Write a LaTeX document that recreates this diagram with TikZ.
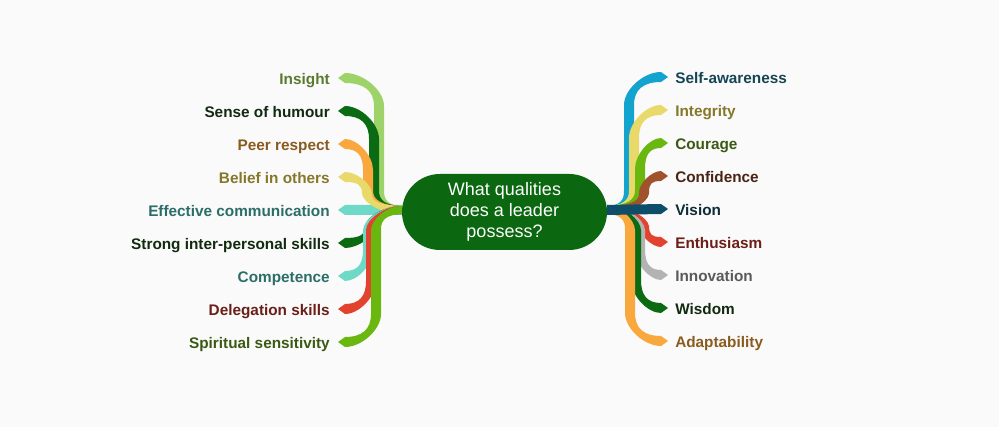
\documentclass[tikz,border=0pt]{standalone}
\usepackage{fontspec}
\setmainfont{Liberation Sans}
\usetikzlibrary{calc}
\definecolor{bgc}{HTML}{FAFAFA}
\definecolor{nodeg}{HTML}{0B6710}
\definecolor{cLgreen}{HTML}{9ED36A}
\definecolor{cDgreen}{HTML}{0B6B12}
\definecolor{cOrange}{HTML}{F9A83E}
\definecolor{cYellow}{HTML}{E9D96A}
\definecolor{cTeal}{HTML}{6DD9C6}
\definecolor{cRed}{HTML}{E2432F}
\definecolor{cGreen}{HTML}{6AB70F}
\definecolor{cBlue}{HTML}{13A3CF}
\definecolor{cBrown}{HTML}{A0522D}
\definecolor{cNavy}{HTML}{0F4E6B}
\definecolor{cGrey}{HTML}{B3B3B3}
\definecolor{tOlive}{HTML}{5A7A30}
\definecolor{tDark}{HTML}{112A10}
\definecolor{tBrownO}{HTML}{8A5B1F}
\definecolor{tKhaki}{HTML}{86782A}
\definecolor{tTeal}{HTML}{2B6E69}
\definecolor{tRed}{HTML}{6B1F18}
\definecolor{tGreen}{HTML}{3A5A13}
\definecolor{tBlue}{HTML}{164656}
\definecolor{tBrown}{HTML}{4A2416}
\definecolor{tNavy}{HTML}{0C2C3A}
\definecolor{tGrey}{HTML}{5A5A5A}
% #1 colour, #2 side (-1 left, 1 right), #3 vertical dir (-1 up, 1 down),
% #4 x of vertical run, #5 junction, #6 band end, #7 radius near junction, #8 radius near end
\newcommand\mybranch[8]{%
  \coordinate (vv) at (#4,0);
  \fill[#1]
    ($(#5)+(0,{(#3)*\hz})$)
    .. controls ($(#5)!0.55!(#5 -| vv)+(0,{(#3)*\hi})$) and ($(#5 -| vv)+({-(#2)*\hi},{(#3)*0.45*#7})$)
    .. ($(#5 -| vv)+({-(#2)*\hh},{(#3)*#7})$)
    -- ($(#6 -| vv)+({-(#2)*\hh},{-(#3)*#8})$)
    .. controls ($(#6 -| vv)+({-(#2)*\hh},{-(#3)*0.45*#8})$) and ($(#6)!0.55!(#6 -| vv)+(0,{(#3)*\hh})$)
    .. ($(#6)+(0,{(#3)*\hh})$)
    -- ($(#6)+({(#2)*7},0)$)
    -- ($(#6)+(0,{-(#3)*\hh})$)
    .. controls ($(#6)!0.55!(#6 -| vv)+(0,{-(#3)*\hh})$) and ($(#6 -| vv)+({(#2)*\hh},{-(#3)*0.45*#8})$)
    .. ($(#6 -| vv)+({(#2)*\hh},{-(#3)*#8})$)
    -- ($(#5 -| vv)+({(#2)*\hh},{(#3)*#7})$)
    .. controls ($(#5 -| vv)+({(#2)*\hi},{(#3)*0.45*#7})$) and ($(#5)!0.55!(#5 -| vv)+(0,{-(#3)*\hi})$)
    .. ($(#5)+(0,{-(#3)*\hz})$)
    -- cycle;}
% straight branch: #1 colour, #2 side, #3 junction, #4 band end
\newcommand\mystraight[4]{%
  \fill[#1] ($(#3)+(0,-\hh)$) -- ($(#4)+(0,-\hh)$) -- ($(#4)+({(#2)*7},0)$) -- ($(#4)+(0,\hh)$) -- ($(#3)+(0,\hh)$) -- cycle;}
\begin{document}
\begin{tikzpicture}[x=0.75pt,y=-0.75pt,
  lbl/.style={font=\bfseries\fontsize{11.5}{13}\selectfont, inner sep=0pt},
  lblL/.style={lbl, anchor=base east},
  lblR/.style={lbl, anchor=base west},
  topic/.style={fill=nodeg, text=white, rounded corners=28.5pt, minimum width=153.75pt, minimum height=57pt, inner sep=0pt, align=center, font=\fontsize{13.5}{16}\selectfont}]
\fill[bgc] (0,0) rectangle (999,427);
\useasboundingbox (0,0) rectangle (999,427);
\def\hz{4}\def\hi{4.5}\def\hh{5}
\coordinate (jl) at (402,210);
\coordinate (jr) at (607,210);
% left band ends
\coordinate (eL1) at (345,78);
\coordinate (eL2) at (345,111);
\coordinate (eL3) at (345,144);
\coordinate (eL4) at (345,177);
\coordinate (eL5) at (345,210);
\coordinate (eL6) at (345,243);
\coordinate (eL7) at (345,276);
\coordinate (eL8) at (345,309);
\coordinate (eL9) at (345,342);
% right band ends
\coordinate (eR1) at (661,77);
\coordinate (eR2) at (661,110);
\coordinate (eR3) at (661,143);
\coordinate (eR4) at (661,176);
\coordinate (eR5) at (661,209);
\coordinate (eR6) at (661,242);
\coordinate (eR7) at (661,275);
\coordinate (eR8) at (661,308);
\coordinate (eR9) at (661,341);
% left branches
\mystraight{cTeal}{-1}{jl}{eL5}
\mybranch{cLgreen}{-1}{-1}{379}{jl}{eL1}{20}{28}
\mybranch{cDgreen}{-1}{-1}{374}{jl}{eL2}{20}{28}
\mybranch{cOrange}{-1}{-1}{368}{jl}{eL3}{20}{26}
\mybranch{cYellow}{-1}{-1}{367}{jl}{eL4}{16.5}{16.5}
\mybranch{cDgreen}{-1}{1}{370}{jl}{eL6}{16.5}{16.5}
\mybranch{cTeal}{-1}{1}{368}{jl}{eL7}{20}{26}
\mybranch{cRed}{-1}{1}{371}{jl}{eL8}{20}{28}
\mybranch{cGreen}{-1}{1}{376}{jl}{eL9}{20}{28}
% right branches
\mybranch{cBlue}{1}{-1}{629}{jr}{eR1}{20}{28}
\mybranch{cYellow}{1}{-1}{634}{jr}{eR2}{20}{28}
\mybranch{cGreen}{1}{-1}{640}{jr}{eR3}{20}{26}
\mybranch{cBrown}{1}{-1}{644}{jr}{eR4}{16.5}{16.5}
\mybranch{cRed}{1}{1}{644}{jr}{eR6}{16.5}{16.5}
\mybranch{cGrey}{1}{1}{640}{jr}{eR7}{20}{26}
\mybranch{cDgreen}{1}{1}{636}{jr}{eR8}{20}{28}
\mybranch{cOrange}{1}{1}{630}{jr}{eR9}{20}{28}
\mystraight{cNavy}{1}{jr}{eR5}
% central topic
\node[topic] (c) at (504.5,212) {What qualities\\does a leader\\possess?};
% left labels
\node[lblL, text=tOlive]  (L1) at (330,85)  {Insight};
\node[lblL, text=tDark]   (L2) at (330,118) {Sense of humour};
\node[lblL, text=tBrownO] (L3) at (330,151) {Peer respect};
\node[lblL, text=tKhaki]  (L4) at (330,184) {Belief in others};
\node[lblL, text=tTeal]   (L5) at (330,217) {Effective communication};
\node[lblL, text=tDark]   (L6) at (330,250) {Strong inter-personal skills};
\node[lblL, text=tTeal]   (L7) at (330,283) {Competence};
\node[lblL, text=tRed]    (L8) at (330,316) {Delegation skills};
\node[lblL, text=tGreen]  (L9) at (330,349) {Spiritual sensitivity};
% right labels
\node[lblR, text=tBlue]   (R1) at (675,84)  {Self-awareness};
\node[lblR, text=tKhaki]  (R2) at (675,117) {Integrity};
\node[lblR, text=tGreen]  (R3) at (675,150) {Courage};
\node[lblR, text=tBrown]  (R4) at (675,183) {Confidence};
\node[lblR, text=tNavy]   (R5) at (675,216) {Vision};
\node[lblR, text=tRed]    (R6) at (675,249) {Enthusiasm};
\node[lblR, text=tGrey]   (R7) at (675,282) {Innovation};
\node[lblR, text=tDark]   (R8) at (675,315) {Wisdom};
\node[lblR, text=tBrownO] (R9) at (675,348) {Adaptability};
\end{tikzpicture}
\end{document}
